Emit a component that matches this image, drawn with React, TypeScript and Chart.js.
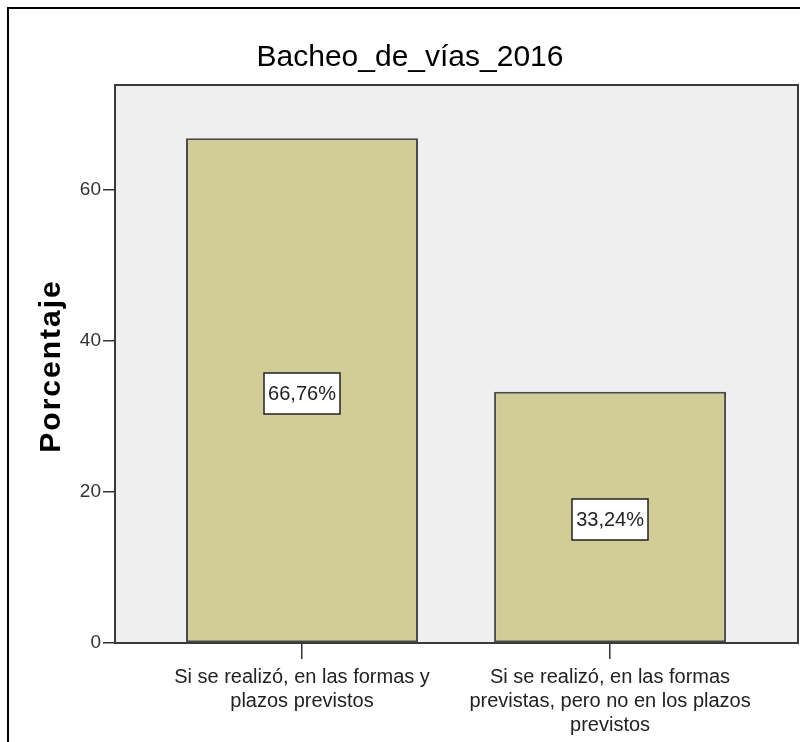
import { useEffect, useRef } from 'react';
import { Chart, registerables } from 'chart.js';

Chart.register(...registerables);

const chartTitle = 'Bacheo_de_vías_2016';
const yAxisTitle = 'Porcentaje';
const categories: string[][] = [
  ['Si se realizó, en las formas y', 'plazos previstos'],
  ['Si se realizó, en las formas', 'previstas, pero no en los plazos', 'previstos'],
];
const percentages: number[] = [66.76, 33.24];
const yTickStep = 20;
const yMax = 73.8;
const xMin = -0.607;
const xMax = 1.61;

const ARIAL = "'Liberation Sans', Arial, sans-serif";

const BAR_FILL = 'rgb(210,205,152)';
const PLOT_BG = '#EFEFEF';
const LINE = '#3a3a3a';

const formatPct = (v: number) => v.toFixed(2).replace('.', ',') + '%';

const decorPlugin = {
  id: 'decor',
  beforeDraw(chart: any) {
    const { ctx, chartArea: a } = chart;
    ctx.save();
    ctx.fillStyle = '#ffffff';
    ctx.fillRect(0, 0, chart.width, chart.height);
    ctx.fillStyle = PLOT_BG;
    ctx.fillRect(a.left, a.top, a.right - a.left, a.bottom - a.top);
    // outer frame
    ctx.strokeStyle = '#000';
    ctx.lineWidth = 2;
    ctx.beginPath();
    ctx.moveTo(8, chart.height);
    ctx.lineTo(8, 8);
    ctx.lineTo(chart.width, 8);
    ctx.stroke();
    // title
    ctx.fillStyle = '#000';
    ctx.font = `30px ${ARIAL}`;
    ctx.textAlign = 'center';
    ctx.textBaseline = 'alphabetic';
    ctx.fillText(chartTitle, 410, 66);
    // y axis title
    ctx.translate(60, (a.top + a.bottom) / 2 + 2);
    ctx.rotate(-Math.PI / 2);
    ctx.font = `bold 30px ${ARIAL}`;
    try { (ctx as any).letterSpacing = '2px'; } catch (e) { /* ignore */ }
    ctx.fillText(yAxisTitle, 0, 0);
    ctx.restore();
  },
  afterDatasetsDraw(chart: any) {
    const { ctx, chartArea: a } = chart;
    ctx.save();
    ctx.strokeStyle = LINE;
    ctx.lineWidth = 2;
    ctx.strokeRect(a.left, a.top, a.right - a.left, a.bottom - a.top);
    const meta = chart.getDatasetMeta(0);
    ctx.font = `20px ${ARIAL}`;
    ctx.textAlign = 'center';
    ctx.textBaseline = 'middle';
    meta.data.forEach((el: any, i: number) => {
      const txt = formatPct(percentages[i]);
      const w = ctx.measureText(txt).width + 8;
      const h = 41;
      const cx = el.x;
      const cy = (el.y + el.base) / 2 + 3;
      ctx.fillStyle = '#ffffff';
      ctx.fillRect(Math.round(cx - w / 2), Math.round(cy - h / 2), Math.round(w), h);
      ctx.strokeStyle = '#222';
      ctx.lineWidth = 1.5;
      ctx.strokeRect(Math.round(cx - w / 2), Math.round(cy - h / 2), Math.round(w), h);
      ctx.fillStyle = '#222';
      ctx.fillText(txt, cx, cy + 1);
    });
    ctx.restore();
  },
};

export default function App() {
  const ref = useRef<HTMLCanvasElement | null>(null);

  useEffect(() => {
    if (!ref.current) return;
    const chart = new Chart(ref.current, {
      type: 'bar',
      data: {
        datasets: [
          {
            label: 'Porcentaje',
            data: percentages.map((v, i) => ({ x: i, y: v })),
            backgroundColor: BAR_FILL,
            borderColor: '#4a4a4a',
            borderWidth: 2,
            borderSkipped: false,
            categoryPercentage: 1,
            barPercentage: 0.753,
          },
        ],
      },
      options: {
        animation: false,
        responsive: false,
        maintainAspectRatio: false,
        layout: { padding: { left: 0, right: 2, top: 85, bottom: 0 } },
        plugins: {
          legend: { display: false },
          tooltip: { enabled: false },
          title: { display: false },
        },
        scales: {
          x: {
            type: 'linear',
            min: xMin,
            max: xMax,
            offset: false,
            afterFit(s: any) { s.height = 99; },
            grid: { offset: false, drawOnChartArea: false, drawTicks: true, tickLength: 16, color: '#333', lineWidth: 1.5 },
            border: { display: true, color: LINE, width: 2 },
            ticks: {
              stepSize: 1,
              includeBounds: false,
              autoSkip: false,
              maxRotation: 0,
              minRotation: 0,
              padding: 6,
              color: '#222',
              font: { family: ARIAL, size: 20, lineHeight: 1.2 },
              callback: (v: any) => {
                const n = Number(v);
                return Number.isInteger(n) && categories[n] ? categories[n] : '';
              },
            },
          },
          y: {
            type: 'linear',
            min: 0,
            max: yMax,
            afterFit(s: any) { s.width = 115; },
            grid: { drawOnChartArea: false, drawTicks: true, tickLength: 12, color: '#333', lineWidth: 1.5 },
            border: { display: true, color: LINE, width: 2 },
            ticks: {
              stepSize: yTickStep,
              includeBounds: false,
              padding: 2,
              color: '#333',
              font: { family: ARIAL, size: 19 },
            },
          },
        },
      },
      plugins: [decorPlugin],
    } as any);
    return () => chart.destroy();
  }, []);

  return (
    <div style={{ position: 'fixed', left: 0, top: 0, width: 800, height: 742, background: '#fff' }}>
      <canvas ref={ref} width={800} height={742} style={{ display: 'block', width: 800, height: 742 }} />
    </div>
  );
}
